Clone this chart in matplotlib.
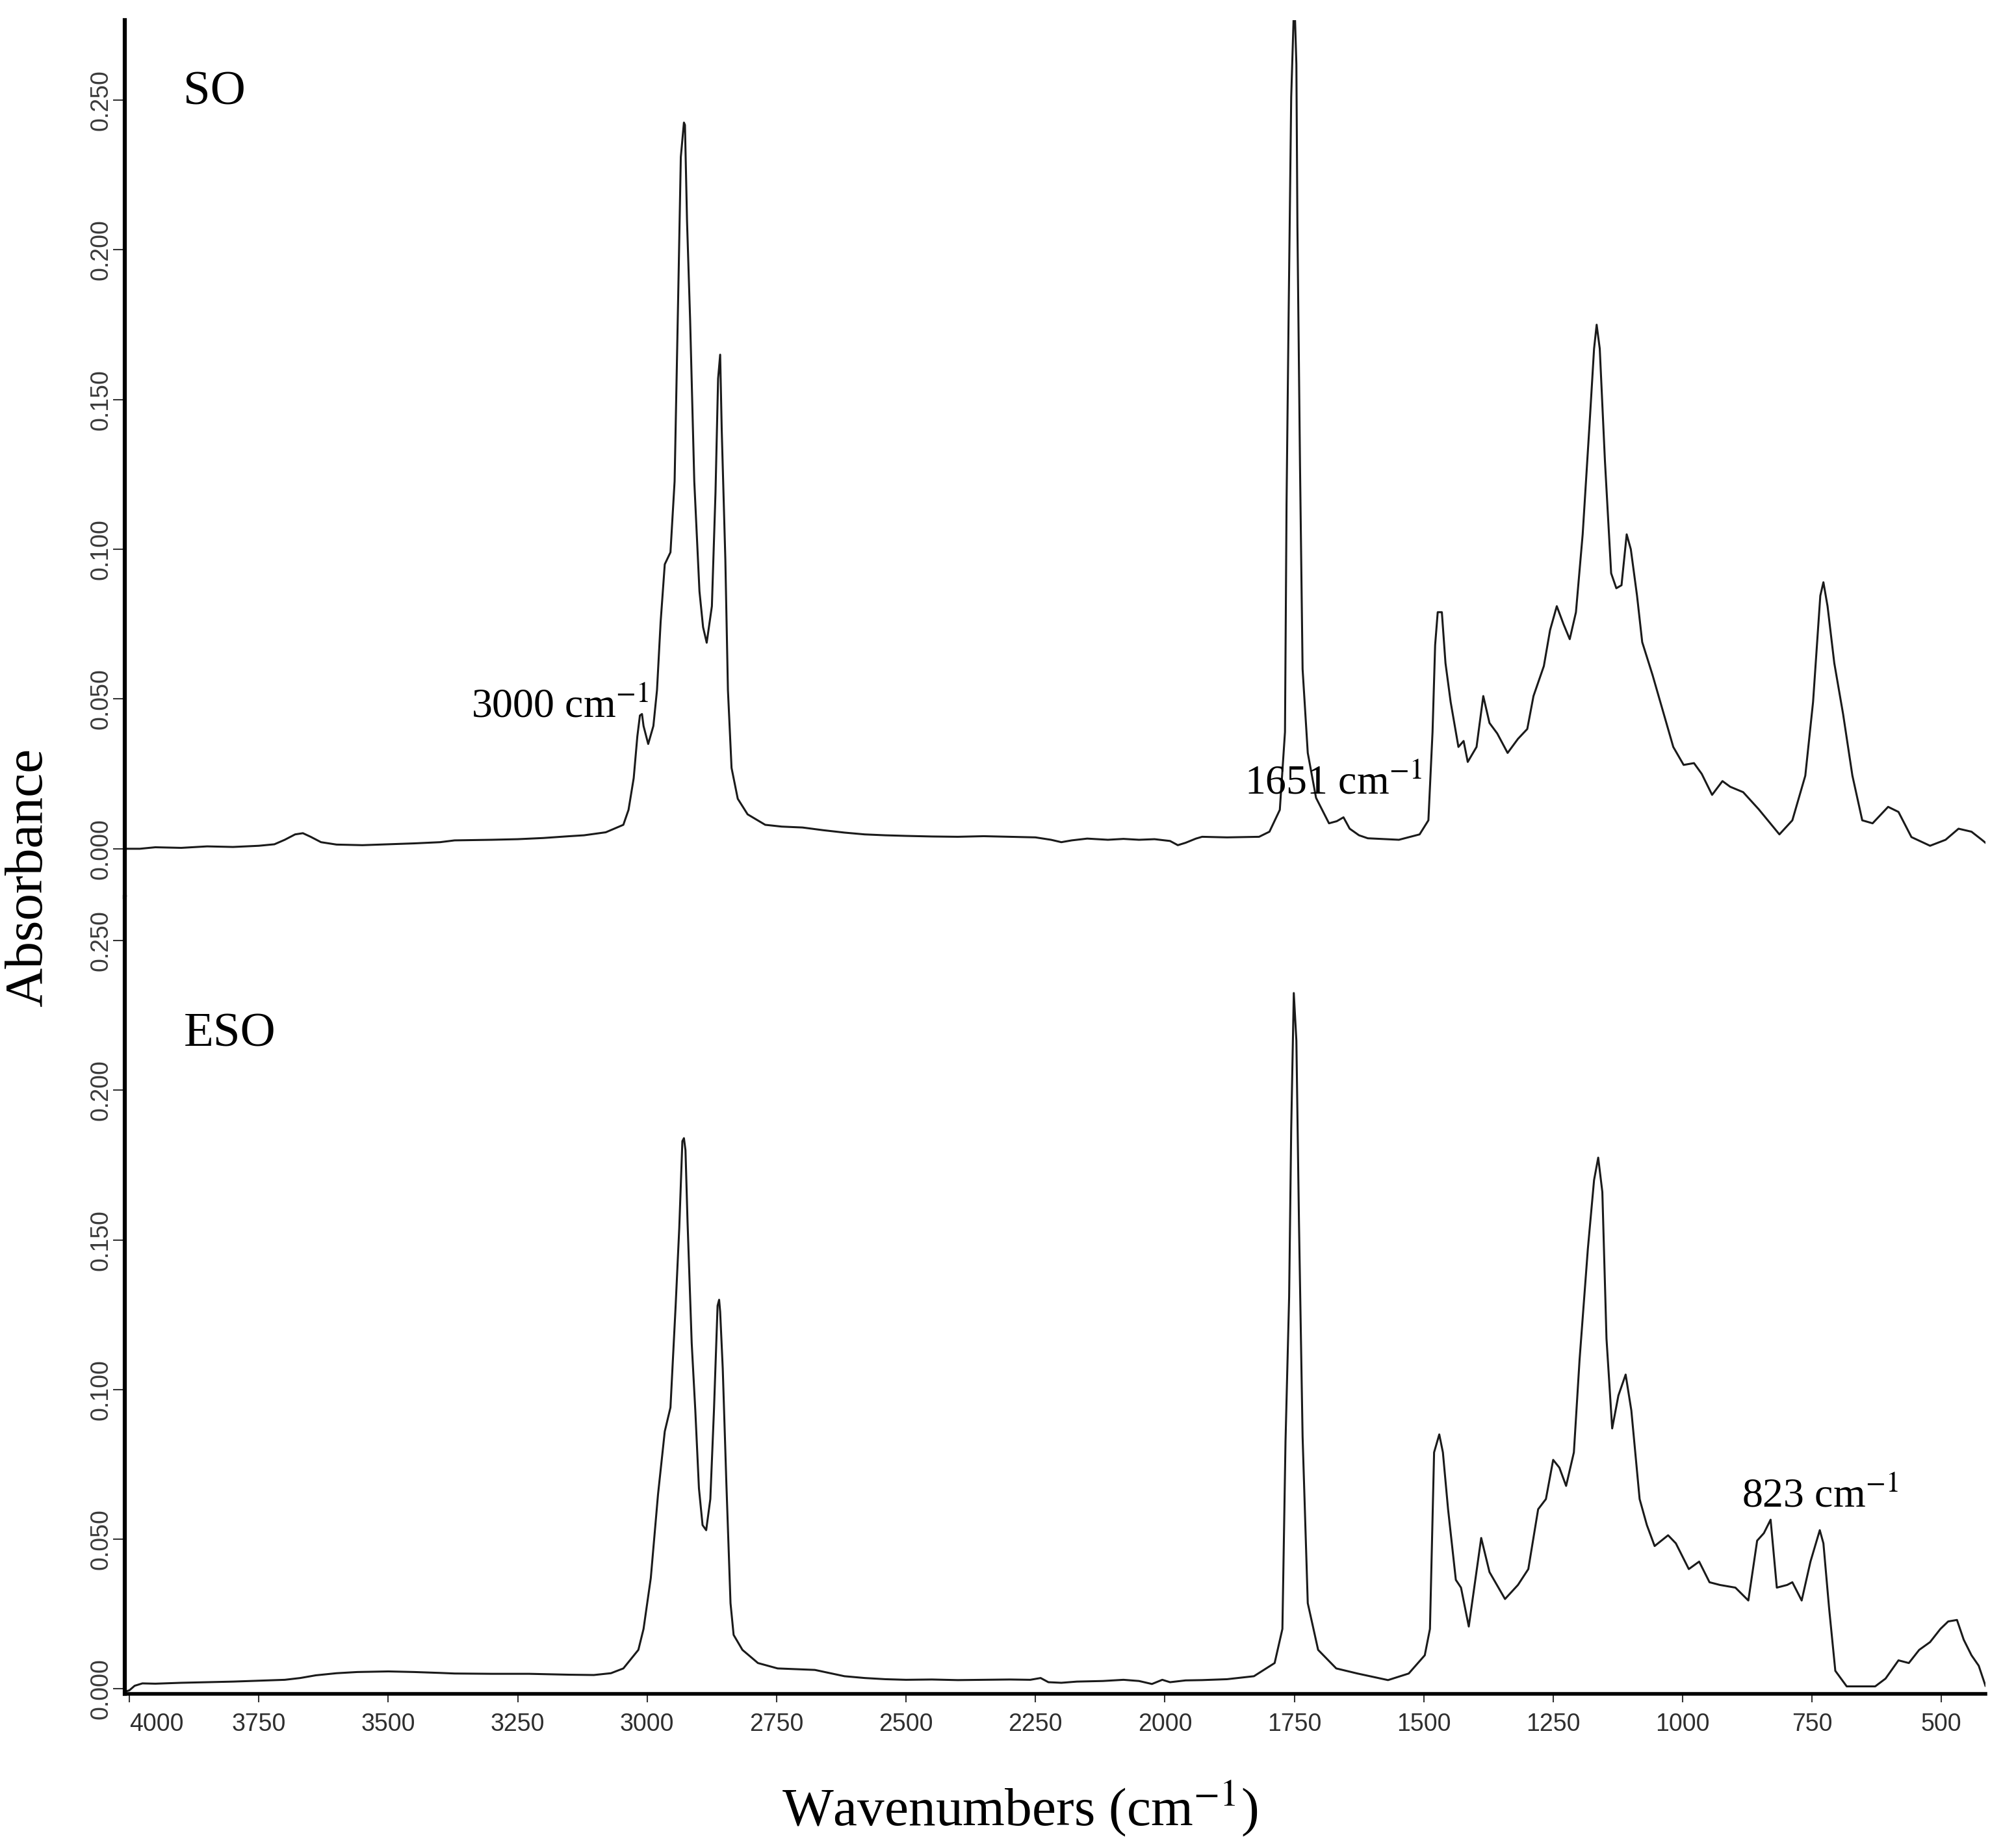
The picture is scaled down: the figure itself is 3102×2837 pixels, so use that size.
import matplotlib
matplotlib.use("Agg")
import matplotlib.pyplot as plt

# FTIR spectra: wavenumber (cm-1) and absorbance
so_wn = [4009, 3980, 3950, 3900, 3850, 3800, 3750, 3720, 3700, 3680, 3665, 3650, 3630, 3600,
         3550, 3500, 3450, 3400, 3372, 3300, 3250, 3200, 3150, 3122, 3080, 3046, 3036, 3026,
         3019, 3014, 3010, 3007, 2998, 2988, 2981, 2974, 2966, 2955, 2947, 2940, 2935, 2929,
         2927, 2923, 2917, 2909, 2899, 2892, 2885, 2875, 2868, 2863, 2859, 2856, 2849, 2844,
         2837, 2825, 2806, 2772, 2740, 2700, 2660, 2619, 2580, 2540, 2500, 2450, 2400, 2350,
         2300, 2250, 2220, 2200, 2180, 2150, 2110, 2080, 2050, 2020, 1990, 1975, 1960, 1940,
         1928, 1880, 1818, 1798, 1778, 1768, 1765, 1761, 1756, 1750, 1746, 1744, 1739, 1734,
         1724, 1708, 1683, 1668, 1655, 1643, 1625, 1608, 1548, 1508, 1491, 1483, 1478, 1473,
         1465, 1458, 1448, 1433, 1423, 1415, 1398, 1385, 1373, 1358, 1338, 1318, 1300, 1288,
         1268, 1256, 1243, 1230, 1218, 1206, 1193, 1180, 1171, 1166, 1160, 1150, 1138, 1128,
         1118, 1108, 1100, 1088, 1078, 1058, 1038, 1018, 998, 978, 963, 943, 923, 908,
         883, 853, 813, 788, 763, 748, 734, 728, 720, 707, 690, 672, 653, 633,
         603, 583, 558, 522, 492, 467, 442, 422, 415]
so_abs = [0.0000, 0.0000, 0.0005, 0.0003, 0.0008, 0.0006, 0.0010, 0.0015, 0.0030, 0.0048, 0.0052, 0.0040, 0.0022, 0.0014,
          0.0012, 0.0015, 0.0018, 0.0022, 0.0028, 0.0030, 0.0032, 0.0036, 0.0042, 0.0045, 0.0055, 0.0080, 0.0130, 0.0236,
          0.0375, 0.0445, 0.0450, 0.0410, 0.0350, 0.0410, 0.0530, 0.0757, 0.0950, 0.0990, 0.1227, 0.1850, 0.2310, 0.2425,
          0.2417, 0.2096, 0.1765, 0.1227, 0.0860, 0.0740, 0.0688, 0.0810, 0.1190, 0.1570, 0.1650, 0.1400, 0.0966, 0.0530,
          0.0270, 0.0167, 0.0115, 0.0080, 0.0074, 0.0071, 0.0062, 0.0054, 0.0048, 0.0045, 0.0043, 0.0041, 0.0040, 0.0042,
          0.0040, 0.0038, 0.0030, 0.0022, 0.0028, 0.0034, 0.0030, 0.0033, 0.0030, 0.0032, 0.0026, 0.0012, 0.0020, 0.0034,
          0.0040, 0.0038, 0.0040, 0.0057, 0.0130, 0.0390, 0.1150, 0.1780, 0.2510, 0.2850, 0.2620, 0.2080, 0.1280, 0.0600,
          0.0320, 0.0170, 0.0085, 0.0092, 0.0105, 0.0067, 0.0045, 0.0035, 0.0030, 0.0048, 0.0095, 0.0390, 0.0680, 0.0790,
          0.0790, 0.0620, 0.0490, 0.0340, 0.0360, 0.0290, 0.0340, 0.0510, 0.0420, 0.0385, 0.0320, 0.0367, 0.0400, 0.0510,
          0.0610, 0.0730, 0.0810, 0.0750, 0.0700, 0.0790, 0.1050, 0.1410, 0.1670, 0.1750, 0.1670, 0.1295, 0.0920, 0.0870,
          0.0880, 0.1050, 0.1000, 0.0845, 0.0690, 0.0580, 0.0460, 0.0340, 0.0280, 0.0286, 0.0250, 0.0180, 0.0226, 0.0207,
          0.0189, 0.0132, 0.0048, 0.0095, 0.0244, 0.0490, 0.0845, 0.0890, 0.0810, 0.0620, 0.0450, 0.0244, 0.0095, 0.0085,
          0.0140, 0.0123, 0.0039, 0.0010, 0.0030, 0.0067, 0.0057, 0.0030, 0.0020]

eso_wn = [4009, 4000, 3990, 3975, 3950, 3900, 3850, 3800, 3750, 3700, 3670, 3640, 3600, 3560,
          3500, 3450, 3400, 3372, 3300, 3228, 3150, 3103, 3070, 3046, 3017, 3007, 2993, 2979,
          2966, 2955, 2945, 2938, 2932, 2929, 2926, 2922, 2914, 2907, 2900, 2893, 2886, 2878,
          2871, 2864, 2861, 2859, 2854, 2847, 2839, 2833, 2816, 2786, 2748, 2676, 2619, 2580,
          2540, 2500, 2450, 2400, 2350, 2300, 2260, 2240, 2225, 2200, 2170, 2120, 2080, 2050,
          2025, 2005, 1990, 1960, 1928, 1880, 1828, 1788, 1773, 1767, 1760, 1756, 1751, 1746,
          1741, 1734, 1724, 1704, 1669, 1628, 1569, 1529, 1498, 1488, 1480, 1470, 1463, 1453,
          1438, 1428, 1413, 1401, 1389, 1373, 1343, 1318, 1298, 1279, 1264, 1250, 1238, 1225,
          1210, 1199, 1183, 1171, 1163, 1155, 1147, 1136, 1124, 1110, 1099, 1083, 1069, 1054,
          1028, 1013, 988, 968, 948, 928, 898, 873, 856, 843, 830, 818, 798, 788,
          770, 753, 735, 728, 717, 705, 683, 628, 608, 583, 563, 543, 522, 502,
          487, 470, 457, 442, 428, 418, 415]
eso_abs = [-0.0010, -0.0005, 0.0010, 0.0018, 0.0017, 0.0020, 0.0022, 0.0024, 0.0027, 0.0030, 0.0036, 0.0045, 0.0052, 0.0056,
           0.0058, 0.0056, 0.0053, 0.0051, 0.0050, 0.0050, 0.0047, 0.0046, 0.0052, 0.0068, 0.0130, 0.0200, 0.0370, 0.0650,
           0.0860, 0.0940, 0.1280, 0.1540, 0.1830, 0.1840, 0.1800, 0.1560, 0.1156, 0.0930, 0.0670, 0.0547, 0.0530, 0.0634,
           0.0930, 0.1280, 0.1300, 0.1260, 0.1070, 0.0686, 0.0286, 0.0180, 0.0130, 0.0086, 0.0068, 0.0063, 0.0042, 0.0036,
           0.0032, 0.0030, 0.0031, 0.0029, 0.0030, 0.0031, 0.0030, 0.0036, 0.0022, 0.0020, 0.0024, 0.0026, 0.0030, 0.0026,
           0.0016, 0.0030, 0.0022, 0.0028, 0.0029, 0.0032, 0.0042, 0.0086, 0.0200, 0.0826, 0.1310, 0.1870, 0.2325, 0.2166,
           0.1560, 0.0843, 0.0286, 0.0130, 0.0068, 0.0051, 0.0029, 0.0051, 0.0112, 0.0200, 0.0790, 0.0850, 0.0790, 0.0600,
           0.0364, 0.0338, 0.0208, 0.0356, 0.0504, 0.0390, 0.0300, 0.0347, 0.0400, 0.0600, 0.0634, 0.0765, 0.0739, 0.0678,
           0.0790, 0.1100, 0.1470, 0.1700, 0.1775, 0.1660, 0.1170, 0.0870, 0.0980, 0.1050, 0.0930, 0.0634, 0.0547, 0.0477,
           0.0513, 0.0486, 0.0400, 0.0425, 0.0356, 0.0347, 0.0338, 0.0295, 0.0495, 0.0520, 0.0565, 0.0338, 0.0347, 0.0356,
           0.0295, 0.0425, 0.0530, 0.0486, 0.0269, 0.0060, 0.0008, 0.0008, 0.0034, 0.0095, 0.0086, 0.0130, 0.0156, 0.0200,
           0.0225, 0.0230, 0.0164, 0.0112, 0.0077, 0.0025, 0.0010]

x_ticks = [4000, 3750, 3500, 3250, 3000, 2750, 2500, 2250, 2000, 1750, 1500, 1250, 1000, 750, 500]
y_ticks = [0.000, 0.050, 0.100, 0.150, 0.200, 0.250]

plt.rcParams['mathtext.fontset'] = 'stix'
serif = 'Liberation Serif'
sans = 'Liberation Sans'
line_col = '#1a1a1a'

fig = plt.figure(figsize=(31.02, 28.37), dpi=100)
ax_top = fig.add_axes([0.0619, 0.51357, 0.92295, 0.47550])
ax_bot = fig.add_axes([0.0619, 0.08142, 0.92295, 0.43215])

ax_top.plot(so_wn, so_abs, color=line_col, lw=2.2)
ax_bot.plot(eso_wn, eso_abs, color=line_col, lw=2.2)

ax_top.set_ylim(-0.0161, 0.2767)
ax_bot.set_ylim(-0.0017, 0.2646)

for ax in (ax_top, ax_bot):
    ax.set_xlim(4009, 415)
    ax.spines['top'].set_visible(False)
    ax.spines['right'].set_visible(False)
    ax.spines['left'].set_linewidth(4.5)
    ax.set_yticks(y_ticks)
    ax.set_yticklabels(['%.3f' % v for v in y_ticks], fontfamily=sans, fontsize=27,
                       color='#3a3a3a', rotation=90, va='center')
    ax.tick_params(axis='y', direction='out', length=13, width=1.5, pad=0, color='#333333')

ax_top.spines['bottom'].set_visible(False)
ax_top.tick_params(axis='x', bottom=False, labelbottom=False)

ax_bot.spines['bottom'].set_linewidth(4.0)
ax_bot.set_xticks(x_ticks)
ax_bot.set_xticklabels([str(v) for v in x_ticks], fontfamily=sans, fontsize=27, color='#2e2e2e')
ax_bot.tick_params(axis='x', direction='out', length=9, width=1.5, pad=12, color='#333333')
for lab in ax_bot.get_xticklabels():
    if lab.get_text() == '4000':
        lab.set_ha('left')

# panel names and band labels
fig.text(0.0909, 0.9433, 'SO', fontfamily=serif, fontsize=54, va='baseline')
fig.text(0.0912, 0.43285, 'ESO', fontfamily=serif, fontsize=54, va='baseline')
fig.text(0.2337, 0.6112, r'3000 cm$^{-1}$', fontfamily=serif, fontsize=46, va='baseline')
fig.text(0.6173, 0.5693, r'1651 cm$^{-1}$', fontfamily=serif, fontsize=46, va='baseline')
fig.text(0.8640, 0.1829, r'823 cm$^{-1}$', fontfamily=serif, fontsize=46, va='baseline')

fig.text(0.0142, 0.5242, 'Absorbance', fontfamily=serif, fontsize=60, rotation=90,
         ha='center', va='center')
fig.text(0.5058, 0.0100, r'Wavenumbers (cm$^{-1}$)', fontfamily=serif, fontsize=60,
         ha='center', va='baseline')

fig.savefig('out.png', dpi=100, facecolor='white')
